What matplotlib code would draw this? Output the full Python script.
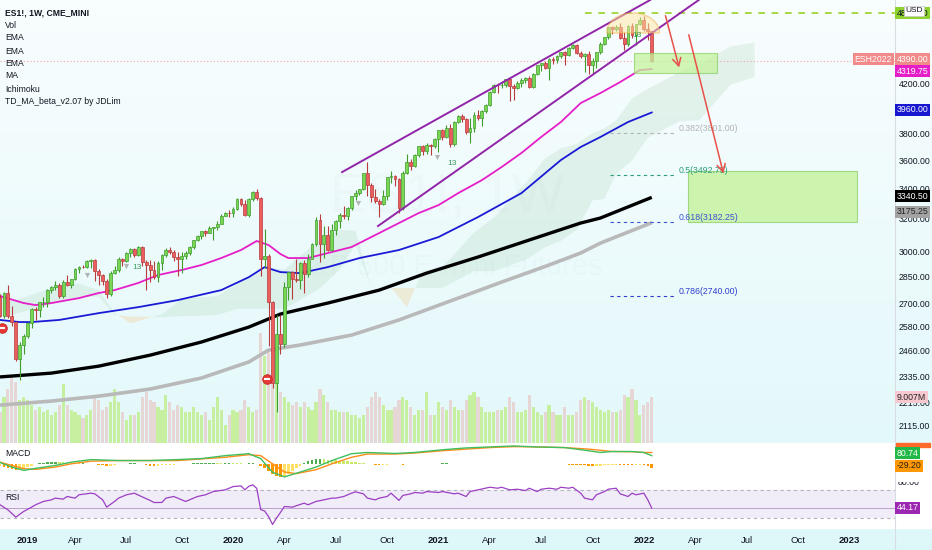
import numpy as np
import pandas as pd
import matplotlib
matplotlib.use("Agg")
import matplotlib.pyplot as plt
from matplotlib.patches import Rectangle, Polygon
from matplotlib.ticker import NullLocator
import matplotlib.dates as mdates

plt.rcParams['font.family'] = ['Liberation Sans Narrow', 'Liberation Sans', 'DejaVu Sans']

W, H = 932, 550

# ---- weekly bars (ES1!, 1W) ----
bar_dates = pd.date_range("2018-11-19", periods=166, freq="7D")
first_open = 2736
closes = [2633, 2760, 2633, 2600, 2417, 2486, 2532, 2596, 2671, 2665,
          2707, 2708, 2776, 2793, 2804, 2743, 2822, 2801, 2834, 2893,
          2907, 2905, 2940, 2946, 2881, 2860, 2826, 2752, 2873, 2887,
          2950, 2942, 2990, 3014, 2977, 3026, 2932, 2919, 2889, 2847,
          2926, 2979, 3007, 2992, 2962, 2952, 2970, 2986, 3023, 3067,
          3093, 3120, 3110, 3141, 3146, 3169, 3221, 3240, 3235, 3265,
          3330, 3295, 3226, 3328, 3380, 3338, 2954, 2972, 2711, 2305,
          2541, 2489, 2790, 2875, 2837, 2831, 2930, 2864, 2955, 3044,
          3194, 3041, 3098, 3009, 3130, 3185, 3225, 3216, 3271, 3351,
          3373, 3397, 3508, 3427, 3341, 3319, 3298, 3348, 3477, 3484,
          3465, 3270, 3510, 3585, 3557, 3638, 3699, 3663, 3709, 3703,
          3756, 3824, 3768, 3841, 3714, 3887, 3934, 3907, 3811, 3842,
          3943, 3913, 3975, 4020, 4129, 4185, 4180, 4181, 4233, 4174,
          4156, 4204, 4230, 4247, 4166, 4281, 4352, 4370, 4327, 4412,
          4395, 4437, 4468, 4442, 4509, 4535, 4459, 4433, 4455, 4357,
          4391, 4471, 4545, 4605, 4697, 4682, 4698, 4595, 4538, 4712,
          4621, 4726, 4766, 4677, 4662, 4390]
highs = [2750, 2765, 2800, 2685, 2610, 2498, 2538, 2601, 2675, 2681,
         2710, 2738, 2778, 2799, 2823, 2813, 2830, 2861, 2837, 2898,
         2911, 2916, 2944, 2955, 2950, 2893, 2865, 2836, 2880, 2910,
         2964, 2957, 2996, 3018, 3016, 3029, 3028, 2945, 2944, 2940,
         2943, 2985, 3021, 3022, 3007, 2993, 2996, 3000, 3028, 3068,
         3097, 3122, 3128, 3154, 3148, 3183, 3228, 3247, 3257, 3277,
         3335, 3339, 3322, 3339, 3385, 3397, 3345, 3136, 2982, 2715,
         2637, 2640, 2818, 2879, 2880, 2955, 2935, 2948, 2980, 3050,
         3212, 3233, 3155, 3153, 3165, 3191, 3236, 3280, 3275, 3352,
         3387, 3399, 3509, 3588, 3440, 3400, 3330, 3393, 3480, 3520,
         3494, 3475, 3520, 3646, 3610, 3645, 3701, 3712, 3726, 3715,
         3760, 3826, 3830, 3859, 3870, 3890, 3937, 3950, 3913, 3915,
         3960, 3983, 3978, 4025, 4131, 4191, 4195, 4218, 4236, 4239,
         4190, 4215, 4240, 4250, 4258, 4285, 4355, 4372, 4393, 4414,
         4429, 4442, 4470, 4480, 4513, 4545, 4546, 4480, 4465, 4480,
         4415, 4473, 4560, 4608, 4700, 4713, 4720, 4740, 4650, 4715,
         4740, 4730, 4795, 4808, 4740, 4665]
lows = [2631, 2625, 2621, 2583, 2409, 2316, 2443, 2519, 2570, 2612,
        2631, 2681, 2680, 2760, 2775, 2728, 2733, 2799, 2785, 2830,
        2873, 2897, 2900, 2900, 2825, 2800, 2805, 2728, 2744, 2865,
        2876, 2911, 2935, 2963, 2967, 2970, 2914, 2776, 2817, 2834,
        2820, 2890, 2964, 2980, 2940, 2855, 2873, 2952, 2977, 3015,
        3059, 3076, 3091, 3108, 3069, 3131, 3167, 3215, 3212, 3211,
        3256, 3280, 3216, 3212, 3319, 3325, 2855, 2899, 2480, 2280,
        2174, 2443, 2475, 2720, 2727, 2820, 2779, 2760, 2845, 2950,
        3030, 2935, 2960, 2999, 3001, 3100, 3141, 3197, 3195, 3255,
        3325, 3355, 3390, 3350, 3310, 3305, 3210, 3292, 3325, 3440,
        3415, 3235, 3260, 3500, 3530, 3550, 3622, 3633, 3647, 3636,
        3690, 3660, 3750, 3760, 3694, 3705, 3880, 3885, 3790, 3723,
        3805, 3900, 3853, 3955, 4010, 4120, 4120, 4160, 4165, 4056,
        4062, 4150, 4168, 4200, 4155, 4155, 4270, 4300, 4320, 4230,
        4360, 4371, 4420, 4355, 4435, 4495, 4450, 4420, 4295, 4280,
        4275, 4330, 4450, 4530, 4590, 4630, 4660, 4590, 4485, 4520,
        4600, 4530, 4715, 4660, 4580, 4380]
volumes = [6.0, 9.0, 10.5, 13.0, 12.0, 8.5, 9.0, 8.5, 7.5, 6.5,
           7.0, 6.0, 6.5, 5.5, 6.0, 7.5, 11.5, 7.5, 6.5, 6.0,
           5.5, 5.0, 5.5, 6.5, 9.0, 8.5, 6.5, 7.0, 8.0, 10.5,
           8.0, 6.0, 4.5, 5.5, 5.5, 6.0, 9.0, 10.0, 8.5, 8.0,
           7.0, 6.5, 9.5, 8.0, 6.5, 7.5, 7.0, 6.0, 6.0, 7.0,
           6.0, 5.5, 6.0, 4.5, 7.0, 9.0, 6.5, 3.5, 5.5, 6.5,
           6.0, 6.5, 8.5, 7.0, 6.0, 6.5, 21.5, 17.0, 18.0, 16.0,
           12.0, 10.0, 9.0, 8.0, 7.5, 8.0, 7.0, 8.0, 7.0, 6.5,
           8.0, 10.5, 9.5, 8.0, 6.5, 6.5, 6.0, 6.0, 6.0, 5.5,
           5.5, 5.0, 5.5, 7.0, 9.0, 10.0, 9.0, 7.5, 6.5, 6.5,
           7.0, 8.5, 9.0, 8.5, 7.0, 5.5, 6.5, 6.5, 10.0, 5.5,
           5.5, 8.0, 7.0, 6.5, 8.5, 7.0, 6.5, 6.5, 8.5, 9.5,
           10.0, 9.0, 7.0, 6.0, 6.0, 6.0, 6.5, 6.5, 7.0, 9.0,
           8.0, 6.0, 6.0, 6.5, 9.5, 7.0, 6.0, 5.5, 6.0, 7.5,
           6.0, 5.5, 5.5, 7.0, 5.5, 5.5, 6.0, 8.5, 9.0, 8.5,
           8.0, 7.0, 6.5, 6.0, 6.5, 6.0, 6.0, 6.5, 9.5, 9.0,
           10.5, 8.5, 5.5, 7.5, 8.0, 9.007]

# ---- moving averages (read at bar indices) ----
ema1_idx = [0, 6, 9, 13, 20, 25, 29, 35, 40, 46, 51, 56, 61, 65, 68, 71, 73, 76, 78,
            83, 89, 96, 101, 106, 111, 116, 122, 127, 132, 137, 142, 147, 152, 157, 162, 165]
ema1_val = [2741, 2703, 2692, 2703, 2730, 2758, 2774, 2814, 2859, 2888, 2917, 2958, 3006,
            3061, 3036, 2982, 2958, 2958, 2958, 2988, 3024, 3110, 3173, 3237, 3289, 3369,
            3458, 3550, 3651, 3770, 3885, 4035, 4117, 4209, 4311, 4319.75]
ema2_idx = [0, 5, 8, 15, 25, 35, 45, 56, 63, 67, 71, 76, 83, 91, 101, 111, 121, 132,
            142, 147, 152, 159, 165]
ema2_val = [2613, 2602, 2602, 2613, 2649, 2681, 2719, 2774, 2847, 2905, 2876, 2870, 2905,
            2958, 3006, 3085, 3211, 3369, 3600, 3695, 3770, 3885, 3960]
ema3_idx = [0, 13, 25, 38, 51, 63, 71, 83, 96, 108, 121, 134, 147, 152, 165]
ema3_val = [2331, 2349, 2382, 2435, 2500, 2576, 2644, 2703, 2774, 2870, 2964, 3067,
            3173, 3205, 3340.5]
ma_idx = [0, 13, 25, 38, 51, 63, 68, 76, 89, 101, 114, 127, 139, 147, 152, 165]
ma_val = [2203, 2221, 2243, 2275, 2326, 2402, 2460, 2485, 2535, 2613, 2714, 2819, 2917,
          2988, 3048, 3175.25]

# ---- Ichimoku cloud (span A / span B, shifted forward) ----
cloud_idx = [0, 3, 16, 20, 25, 29, 33, 41, 46, 55, 60, 68, 72, 81, 86, 90, 94, 99, 103,
             107, 112, 120, 125, 133, 138, 142, 146, 150, 153, 156, 160, 164, 172, 177, 185, 191]
span_a = [2760, 2712, 2808, 2810, 2773, 2650, 2595, 2644, 2724, 2741, 2807, 2902, 2890,
          3072, 3128, 3126, 2786, 2786, 2681, 2881, 2903, 3113, 3207, 3435, 3612, 3686,
          3718, 3800, 3835, 3898, 4072, 4152, 4294, 4363, 4521, 4557]
span_b = [2630, 2640, 2715, 2738, 2738, 2640, 2631, 2628, 2633, 2638, 2672, 2673, 2672,
          2783, 2891, 3038, 2786, 2786, 2786, 2786, 2786, 2882, 2881, 2947, 3022, 3062,
          3130, 3320, 3330, 3500, 3597, 3765, 3890, 3898, 4187, 4251]

# ---- MACD ----
macd_idx = [0, 3, 6, 9, 14, 18, 23, 30, 38, 45, 51, 57, 63, 66, 69, 72, 75, 80, 84, 89,
            93, 100, 105, 112, 118, 124, 130, 136, 143, 149, 152, 155, 160, 163, 165]
macd_val = [18, -24, -54, -36, -9, 21, 45, 36, 36, 45, 54, 81, 99, 54, -72, -114, -81, -24,
            36, 99, 110, 101, 110, 135, 152, 161, 170, 161, 155, 126, 110, 119, 119, 110, 80.74]
signal_idx = [0, 3, 6, 9, 14, 18, 23, 30, 45, 57, 63, 66, 69, 72, 75, 80, 84, 89, 93, 100,
              105, 112, 118, 124, 130, 136, 143, 149, 155, 160, 163, 165]
signal_val = [21, -9, -39, -45, -24, 6, 30, 36, 36, 66, 90, 81, 6, -69, -84, -48, 6, 66, 96,
              96, 105, 126, 141, 155, 164, 161, 155, 141, 119, 117, 110, 109.94]
macd_hist = [-10, -20, -30, -45, -55, -50, -40, -25, -10, 5,
             10, 15, 20, 25, 25, 22, 20, 18, 15, 12, 10, 10, 8,
             5, 3, -3, -8, -12, -10, -5, 0,
             5, 8, 10, 10, 8, 5,
             -5, -10, -12, -10, -8, -5, -3, -2,
             0, 3, 5, 8, 10, 12, 14, 15, 15, 15, 14, 13, 14, 14, 13, 12,
             10, 8, 9, 10, 8,
             -10, -30, -60, -90, -110, -115, -105, -85, -60, -35,
             -10, 10, 30, 45, 50, 50, 48, 45, 42, 40, 36, 32, 28, 25, 22,
             15, 10, 5, 0, -5, -8, -6, -3, 0, 3, 2, -2, 0, 3, 5, 6, 5, 5, 6, 8,
             8, 9, 10, 8, 6, 6, 7, 6, 4, 3, 3, 4, 5, 6, 7, 6, 5, 4, 3, 2,
             2, 1, 1, 0, 0, 0, 1, 1, 2, 2, 2, 1, 0, -1, -2, -4, -6, -8,
             -12, -15, -14, -12, -8, -5, -3, -2, -3, -5,
             -6, -8, -8, -6, -8, -12, -29.2]

# ---- RSI ----
rsi_idx = [0, 2, 4, 6, 8, 9, 11, 13, 14, 16, 17, 19, 20, 23, 24, 26, 27, 29, 30, 32,
           34, 36, 38, 39, 41, 42, 44, 46, 47, 49, 50, 52, 54, 57, 59, 61, 62, 63, 64, 65,
           66, 67, 68, 69, 70, 71, 72, 74, 75, 77, 78, 80, 82, 84, 85, 87, 89, 90, 92, 93,
           95, 96, 98, 99, 101, 102, 104, 105, 107, 108, 111, 112, 115, 116, 118, 119, 121, 124, 126, 127,
           129, 131, 133, 134, 136, 137, 139, 141, 142, 144, 145, 147, 148, 150, 151, 153, 154, 156, 157, 159,
           160, 161, 163, 164, 165]
rsi_val = [48.8, 41.7, 31.4, 39.4, 45.5, 48.8, 53.5, 55.8, 58.2, 56.8,
           60.5, 58.2, 62.9, 65.2, 64.3, 55.8, 45.5, 53.5, 58.2, 62.9,
           65.2, 60.0, 55.0, 52.0, 52.1, 58.2, 60.5, 55.8, 53.5, 58.2,
           60.5, 62.9, 67.5, 69.9, 74.5, 75.5, 70.0, 75.0, 77.0, 72.0,
           42.0, 40.0, 32.0, 21.0, 30.0, 38.0, 46.4, 45.5, 47.4, 51.1,
           48.8, 53.5, 55.8, 58.2, 58.2, 60.5, 65.2, 67.1, 64.3, 58.2,
           55.8, 58.2, 60.5, 65.2, 55.0, 62.0, 64.3, 66.2, 65.2, 67.5,
           66.2, 67.5, 64.3, 65.2, 60.5, 67.5, 69.9, 73.6, 72.2, 73.6,
           69.9, 70.8, 68.9, 72.2, 67.5, 70.8, 72.2, 70.8, 73.6, 72.2,
           73.6, 65.2, 58.2, 55.8, 62.9, 67.5, 70.8, 72.2, 64.3, 60.5,
           65.2, 62.9, 65.2, 55.8, 44.17]

price_ticks = [2115, 2215, 2335, 2460, 2580, 2700, 2850, 3000, 3200, 3400, 3600, 3800,
               4000, 4200, 4400]
time_tick_dates = ["2019-01-07", "2019-04-01", "2019-07-01", "2019-10-07", "2020-01-06",
                   "2020-04-06", "2020-07-06", "2020-10-05", "2021-01-04", "2021-04-05",
                   "2021-07-05", "2021-10-04", "2022-01-03", "2022-04-04", "2022-07-04",
                   "2022-10-03", "2023-01-02"]
time_tick_labels = ["2019", "Apr", "Jul", "Oct", "2020", "Apr", "Jul", "Oct", "2021", "Apr",
                    "Jul", "Oct", "2022", "Apr", "Jul", "Oct", "2023"]
fib_levels = [("0.382(3801.00)", 3801.00, "#b4b4b4"), ("0.5(3492.75)", 3492.75, "#2a9d7c"),
              ("0.618(3182.25)", 3182.25, "#3a55d0"), ("0.786(2740.00)", 2740.00, "#2f3fcc")]

# ---- helpers ----
x0 = mdates.date2num(bar_dates[0])


def bx(i):
    return x0 + 7.0 * np.asarray(i, dtype=float)


def fy(py):
    return 1 - py / H


XMAX = x0 + 895 * 7.0 / 3.95
LBL = 6.3

fig = plt.figure(figsize=(W / 100, H / 100), dpi=100)

# background
ax_bg = fig.add_axes([0, 0, 1, 1], zorder=-5)
grad = np.linspace(0, 1, 256).reshape(-1, 1)
top = np.array([0.975, 0.993, 0.996])
bot = np.array([0.87, 0.97, 0.98])
img = top + (bot - top) * grad[:, :, None] * np.ones((1, 1, 3))
ax_bg.imshow(img, aspect='auto', extent=[0, 1, 0, 1], origin='upper')
ax_bg.add_patch(Rectangle((0, fy(528)), 1, 85 / H, color='white'))
ax_bg.plot([895 / W, 895 / W], [0, 1], color='#d9dde3', lw=0.8)
ax_bg.set_xlim(0, 1)
ax_bg.set_ylim(0, 1)
ax_bg.axis('off')

main_rect = [0, fy(443), 895 / W, 443 / H]
ax_vol = fig.add_axes(main_rect)
ax_vol.set_facecolor('none')
ax = ax_vol.twinx()
ax.set_facecolor('none')

o = np.array([first_open] + closes[:-1], dtype=float)
c = np.array(closes, dtype=float)
h = np.array(highs, dtype=float)
l = np.array(lows, dtype=float)
v = np.array(volumes, dtype=float)
xb = bx(np.arange(len(c)))
up = c >= o

# volume
ax_vol.bar(xb, v, width=5.6, color=np.where(up, '#c6efa0', '#e7d6d6'), linewidth=0)
ax_vol.set_ylim(0, 443 / 5.1)
ax_vol.set_xlim(x0, XMAX)
ax_vol.axis('off')

# price pane
ax.set_yscale('log')
ax.set_ylim(2042, 4961)
ax.set_xlim(x0, XMAX)

# watermark
ax.text(447 / 895, (443 - 198) / 443, "ES1!, 1W", transform=ax.transAxes, fontsize=40,
        color='#7f8c93', alpha=0.035, ha='center', va='center', zorder=0)
ax.text(447 / 895, (443 - 267) / 443, "S&P 500 E-mini Futures", transform=ax.transAxes,
        fontsize=21, color='#7f8c93', alpha=0.035, ha='center', va='center', zorder=0)

# ichimoku cloud
cxs = bx(cloud_idx)
sa = np.array(span_a, float)
sb = np.array(span_b, float)
ax.fill_between(cxs, sa, sb, where=sa >= sb, interpolate=True, color='#9acca5', alpha=0.2,
                lw=0, zorder=1)
ax.fill_between(cxs, sa, sb, where=sa < sb, interpolate=True, color='#f5c16c', alpha=0.25,
                lw=0, zorder=1)

# moving averages
ax.plot(bx(ma_idx), ma_val, color='#b9b9b9', lw=2.6, zorder=3, solid_capstyle='butt')
ax.plot(bx(ema3_idx), ema3_val, color='#000000', lw=2.4, zorder=3, solid_capstyle='butt')
ax.plot(bx(ema2_idx), ema2_val, color='#1a1ad6', lw=1.3, zorder=3)
ax.plot(bx(ema1_idx), ema1_val, color='#e61ec8', lw=1.3, zorder=3)

# candles
up_fill, up_edge = '#7ad655', '#3f9b2c'
dn_fill, dn_edge = '#ec5e5e', '#b83b3b'
ax.vlines(xb[up], l[up], h[up], color=up_edge, lw=0.8, zorder=4)
ax.vlines(xb[~up], l[~up], h[~up], color=dn_edge, lw=0.8, zorder=4)
body = np.maximum(np.abs(c - o), 2)
ax.bar(xb[up], body[up], bottom=np.minimum(o, c)[up], width=5.0, color=up_fill,
       edgecolor=up_edge, linewidth=0.5, zorder=5)
ax.bar(xb[~up], body[~up], bottom=np.minimum(o, c)[~up], width=5.0, color=dn_fill,
       edgecolor=dn_edge, linewidth=0.5, zorder=5)

# last price line
ax.axhline(4390, color='#f4a3a3', ls=(0, (1, 2)), lw=0.8, zorder=2)
# green dashed resistance
ax.plot([bx(148.1), XMAX], [4830, 4830], color='#9bd12a', ls=(0, (4, 4)), lw=1.2, zorder=6)

# channel
ax.plot([bx(86.6), bx(164.6)], [3514, 4961], color='#9124a8', lw=1.4, zorder=6)
ax.plot([bx(95.7), bx(176.9)], [3154, 4961], color='#9124a8', lw=1.4, zorder=6)

# dome
th = np.linspace(0, np.pi, 40)
dome = np.column_stack([(633 + 26.5 * np.cos(th)) / 895, (443 - 33 + 20 * np.sin(th)) / 443])
ax.add_patch(Polygon(dome, closed=True, transform=ax.transAxes, facecolor='#ffe7a0',
                     alpha=0.5, edgecolor='#f3b04a', lw=1.0, zorder=6))

# target boxes
ax.add_patch(Rectangle((bx(160.5), 4286), 7 * 21.0, 4461 - 4286, facecolor='#c4f39c',
                       alpha=0.75, edgecolor='#8fd16a', lw=0.8, zorder=6))
ax.add_patch(Rectangle((bx(174.2), 3182.25), 7 * 42.8, 3520 - 3182.25, facecolor='#c4f39c',
                       alpha=0.8, edgecolor='#8fd16a', lw=0.8, zorder=6))

# fib levels
for lab, p, col in fib_levels:
    ax.plot([bx(154.4), bx(171.1)], [p, p], color=col, ls=(0, (3, 3)), lw=0.8, zorder=6)
    ax.text(bx(171.9), p, lab, color=col, fontsize=6.3, va='bottom', ha='left', zorder=7)

# arrows
arr = dict(arrowstyle='->,head_length=0.55,head_width=0.3', color='#e8504a', lw=1.1)
ax.annotate('', xy=(bx(172.1), 4311), xytext=(bx(168.3), 4833), arrowprops=arr, zorder=7)
ax.annotate('', xy=(bx(183.3), 3486), xytext=(bx(174.2), 4652), arrowprops=arr, zorder=7)

# TD markers
ax.scatter(bx([0.5, 67.6]), [2571, 2320], s=48, color='#e53935', edgecolors='#c62828',
           lw=0.6, zorder=8)
ax.scatter(bx([0.5, 67.6]), [2571, 2320], s=14, marker='_', color='white', lw=1.5, zorder=9)
for i, p in [(34.7, 2904), (114.4, 3578), (161.3, 4624)]:
    ax.text(bx(i), p, "13", fontsize=6, color='#3a9a60', ha='center', va='center', zorder=8)
ax.scatter(bx([22, 31.9, 90.6, 110.6]), [2859, 2911, 3303, 3625], marker='v', s=14,
           color='#a3a3a3', alpha=0.8, lw=0, zorder=8)

ax.yaxis.tick_right()
ax.set_yticks(price_ticks)
ax.set_yticklabels([f"{t:.2f}" for t in price_ticks])
ax.yaxis.set_minor_locator(NullLocator())
ax.tick_params(axis='y', length=0, pad=2.5, labelsize=LBL, labelcolor='#131722')
ax.tick_params(axis='x', bottom=False, labelbottom=False)
for s in ax.spines.values():
    s.set_visible(False)

# ---- MACD pane ----
ax_m = fig.add_axes([0, fy(482), 895 / W, 38 / H])
ax_m.set_facecolor('none')
ax_m.set_xlim(x0, XMAX)
ax_m.set_ylim(-161, 188)
hist = np.array(macd_hist, float)
prev = np.concatenate([[hist[0]], hist[:-1]])
hcol = np.where(hist >= 0, np.where(hist >= prev, '#4caf50', '#c8e86a'),
                np.where(hist < prev, '#ff9800', '#ffe066'))
ax_m.bar(xb, hist, width=4.6, color=hcol, linewidth=0)
ax_m.plot(bx(signal_idx), signal_val, color='#ff8c1a', lw=1.0)
ax_m.plot(bx(macd_idx), macd_val, color='#3fbf5f', lw=1.0)
ax_m.axis('off')

# ---- RSI pane ----
ax_r = fig.add_axes([0, fy(528), 895 / W, 46 / H])
ax_r.set_facecolor('none')
ax_r.set_xlim(x0, XMAX)
ax_r.set_ylim(16, 81)
ax_r.axhspan(30, 70, color='#7e57c2', alpha=0.11, lw=0)
ax_r.axhline(70, color='#b3b3bd', ls=(0, (3, 3)), lw=0.8)
ax_r.axhline(30, color='#b3b3bd', ls=(0, (3, 3)), lw=0.8)
ax_r.axhline(44.17, color='#9c6fb0', lw=0.6, alpha=0.7)
ax_r.plot(bx(rsi_idx), rsi_val, color='#9c3fc4', lw=0.9)
for s in ax_r.spines.values():
    s.set_visible(False)
ax_r.set_yticks([])
tick_x = mdates.date2num(pd.to_datetime(time_tick_dates))
ax_r.set_xticks(tick_x)
ax_r.set_xticklabels(time_tick_labels)
ax_r.tick_params(axis='x', length=0, pad=6, labelsize=6.8, labelcolor='#131722')
for t in ax_r.get_xticklabels():
    if t.get_text().isdigit():
        t.set_fontweight('bold')

ax_rl = fig.add_axes([895 / W, fy(528), 37 / W, 46 / H])
ax_rl.set_ylim(16, 81)
ax_rl.set_xlim(0, 1)
ax_rl.axis('off')
ax_rl.text(0.06, 80, "80.00", fontsize=LBL, color='#131722', va='center', ha='left',
           clip_on=True)

# ---- header / pane titles ----
header = ["ES1!, 1W, CME_MINI", "Vol", "EMA", "EMA", "EMA", "MA", "Ichimoku",
          "TD_MA_beta_v2.07 by JDLim"]
for k, (txt, py) in enumerate(zip(header, [12.7, 25, 37.7, 51, 63.3, 76, 89.3, 102])):
    fig.text(5 / W, fy(py), txt, fontsize=6.2, color='#131722', va='center', ha='left',
             fontweight='bold' if k == 0 else 'normal')
fig.text(5 / W, fy(453), "MACD", fontsize=6.2, color='#131722', va='center')
fig.text(5 / W, fy(497), "RSI", fontsize=6.2, color='#131722', va='center')


# ---- right-axis value labels ----
def vlabel(px, py, txt, bg, fg='white', ha='left'):
    fig.text(px / W, fy(py), txt, fontsize=LBL, color=fg, va='center', ha=ha,
             bbox=dict(boxstyle='square,pad=0.22', fc=bg, ec='none'), zorder=10)


vlabel(896.5, 13, "4830.00", '#8fd22e', '#131722')
fig.text(914 / W, fy(11), "USD", fontsize=6, color='#131722', va='center', ha='center',
         bbox=dict(boxstyle='square,pad=0.2', fc='white', ec='#c8c8c8', lw=0.5), zorder=11)
vlabel(892, 59, "ESH2022", '#f28a8a', ha='right')
vlabel(896.5, 59, "4390.00", '#f28a8a')
vlabel(896.5, 71, "4319.75", '#e61ec8')
vlabel(896.5, 110, "3960.00", '#1717d0')
vlabel(896.5, 196, "3340.50", '#000000')
vlabel(896.5, 212, "3175.25", '#a3a3a3', '#222222')
vlabel(896.5, 397, "9.007M", '#f7c9cf', '#222222')
fig.patches.append(Rectangle((896 / W, fy(447)), 34 / W, 4 / H, transform=fig.transFigure,
                             color='#ff6a2a', zorder=10))
vlabel(896.5, 453, "80.74", '#22b845')
vlabel(896.5, 466, "-29.20", '#ff9800', '#222222')
vlabel(896.5, 508, "44.17", '#9c27b0')

fig.savefig("out.png", dpi=100)
